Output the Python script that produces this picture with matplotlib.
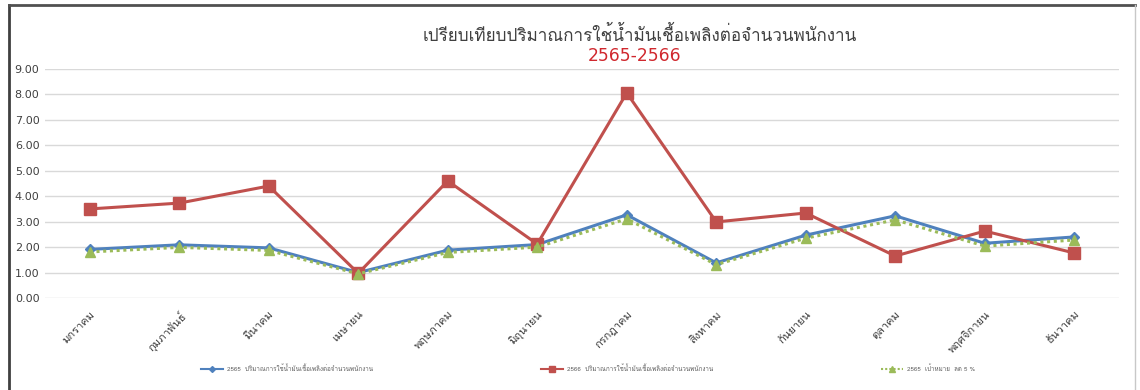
import matplotlib
matplotlib.use("Agg")
import matplotlib.pyplot as plt
from matplotlib import font_manager
from matplotlib.ft2font import FT2Font
from matplotlib.lines import Line2D

# ---- data ----
months = ["มกราคม", "กุมภาพันธ์", "มีนาคม", "เมษายน", "พฤษภาคม", "มิถุนายน",
          "กรกฎาคม", "สิงหาคม", "กันยายน", "ตุลาคม", "พฤศจิกายน", "ธันวาคม"]
fuel_2565 = [1.91, 2.09, 1.97, 1.00, 1.88, 2.10, 3.27, 1.38, 2.47, 3.23, 2.15, 2.40]
fuel_2566 = [3.50, 3.73, 4.40, 0.97, 4.60, 2.12, 8.06, 2.99, 3.34, 1.65, 2.63, 1.77]
target_2565 = [1.81, 1.99, 1.87, 0.95, 1.79, 2.00, 3.11, 1.31, 2.35, 3.07, 2.04, 2.28]
labels = ["2565  ปริมาณการใช้น้ำมันเชื้อเพลิงต่อจำนวนพนักงาน",
          "2566  ปริมาณการใช้น้ำมันเชื้อเพลิงต่อจำนวนพนักงาน",
          "2565  เป้าหมาย  ลด 5 %"]
title_main = "เปรียบเทียบปริมาณการใช้น้ำมันเชื้อเพลิงต่อจำนวนพนักงาน"
title_sub = "2565-2566"
yticks = [0, 1, 2, 3, 4, 5, 6, 7, 8, 9]


def find_thai_family():
    for fe in font_manager.fontManager.ttflist:
        try:
            cmap = FT2Font(fe.fname).get_charmap()
        except Exception:
            continue
        if 0x0E01 in cmap and 0x0E32 in cmap:
            return fe.name
    return None


thai = find_thai_family()
families = ([thai] if thai else []) + ["DejaVu Sans"]
plt.rcParams["font.family"] = families

W, H = 1140, 390
fig = plt.figure(figsize=(W / 100, H / 100), dpi=100)
fig.patch.set_facecolor("white")

# outer frame (top and left edges dark, right edge light)
fig.add_artist(Line2D([9 / W, 9 / W], [0, 1 - 5 / H], transform=fig.transFigure,
                      color="#404040", lw=2))
fig.add_artist(Line2D([9 / W, 1 - 5 / W], [1 - 5 / H, 1 - 5 / H], transform=fig.transFigure,
                      color="#505050", lw=2))
fig.add_artist(Line2D([1 - 5 / W, 1 - 5 / W], [0, 1 - 5 / H], transform=fig.transFigure,
                      color="#c8c8c8", lw=1))

# plot area: x 45..1119 px, y 69..298 px
ax = fig.add_axes([45 / W, 1 - 298 / H, (1119 - 45) / W, (298 - 69) / H])
x = list(range(len(months)))

ax.plot(x, fuel_2565, color="#4f81bd", lw=2.2, marker="D", ms=5, zorder=3)
ax.plot(x, fuel_2566, color="#c0504d", lw=2.2, marker="s", ms=8, zorder=4)
ax.plot(x, target_2565, color="#9bbb59", lw=2.2, ls=(0, (1, 1.2)), marker="^", ms=7, zorder=5)

ax.set_xlim(-0.5, len(months) - 0.5)
ax.set_ylim(0, 9)
ax.set_yticks(yticks)
ax.set_yticklabels([f"{v:.2f}" for v in yticks], fontsize=8, color="#404040")
ax.tick_params(axis="y", length=0, pad=4)
for lab in ax.get_yticklabels():
    lab.set_family("DejaVu Sans")
ax.grid(axis="y", color="#d9d9d9", lw=1)
ax.set_axisbelow(True)
for s in ax.spines.values():
    s.set_visible(False)

ax.set_xticks(x)
ax.set_xticklabels(months, rotation=45, ha="right", rotation_mode="anchor",
                   fontsize=8, color="#404040")
ax.tick_params(axis="x", length=0, pad=8)

# title
fig.text(0.561, 1 - 35 / H, title_main, ha="center", va="center", fontsize=12.3, color="#404040")
fig.text(0.557, 1 - 56 / H, title_sub, ha="center", va="center", fontsize=12.3, color="#d0282e",
         family="DejaVu Sans")

# legend
handles = [
    Line2D([], [], color="#4f81bd", lw=1.5, marker="D", ms=3),
    Line2D([], [], color="#c0504d", lw=1.5, marker="s", ms=4),
    Line2D([], [], color="#9bbb59", lw=1.5, ls=(0, (1, 1)), marker="^", ms=4),
]
legend_x = [198, 538, 878]
for h, lab, lx in zip(handles, labels, legend_x):
    fig.legend([h], [lab], loc="center left", bbox_to_anchor=(lx / W, 1 - 368 / H),
               frameon=False, fontsize=4.5, handlelength=3.5, handletextpad=0.6,
               borderpad=0, labelcolor="#606060")

fig.savefig("out.png", dpi=100, facecolor="white")
